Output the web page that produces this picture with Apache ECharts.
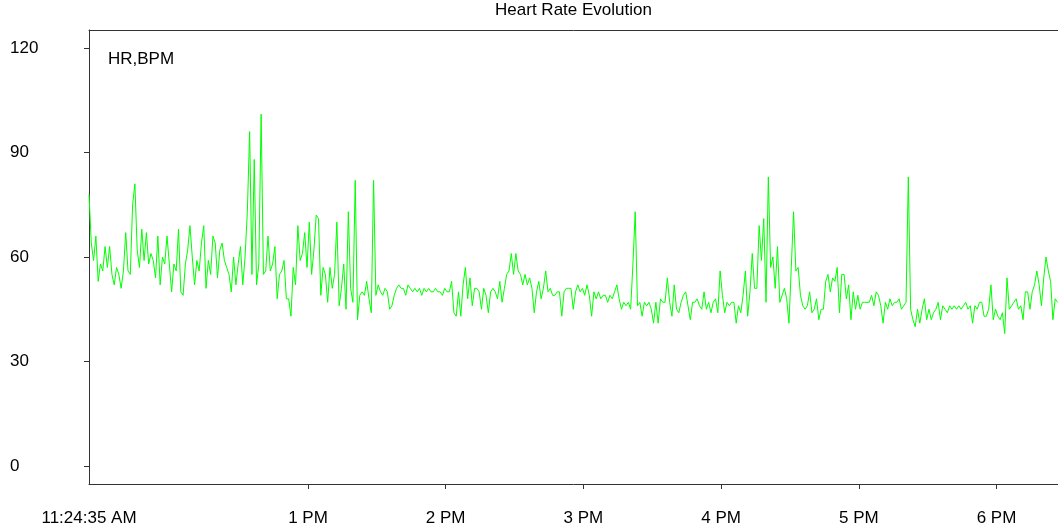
<!DOCTYPE html>
<html>
<head>
<meta charset="utf-8">
<script src="https://cdn.jsdelivr.net/npm/echarts@6/dist/echarts.min.js"></script>
<style>
html,body{margin:0;padding:0;background:#fff;}
#chart{width:1058px;height:531px;}
</style>
</head>
<body>
<div id="chart"></div>
<script>
// Start time 11:24:35 AM, in seconds since midnight; one reading per minute
const startSec = 11 * 3600 + 24 * 60 + 35;
const stepSec = 60;
const endSec = startSec + 25333;

// Heart rate (BPM), in consecutive blocks
const hrBlock1 = [78,64,59,66,53,58,56,63,57,63,55,52,57,55,51,56,67,56,55,75,
  81,62,57,68,59,67,58,61,59,54,66,52,60,58,66,58,50,58,56,68,
  50,49,58,62,69,60,52,59,56,64,69,51,59,55,66,64,54,62,64,59,
  57,55,50,60,52,58,63,52,60,73,96,55,88,52,58,101];
const hrBlock2 = [55,56,66,56,58,63,48,55,56,59,48,48,43,57,52,69,59,61,67,57,
  70,55,62,72,71,49,57,55,47,57,51,55,70,46,51,58,45,73,51,47,
  82,42,49,50,49,53,48,44,82,49,52,50,49,51,50,45,46,49,51,52,
  51,51,49,52,51,50];
const hrBlock3 = [51,50,51,49,51,50,51,50,50,51,50,50,49,51,50,50,53,44,43,50,
  43,52,57,48,54,46,51,51,50,45,51,49,44,50,51,50,48,53,47,51,
  55,56,61,55,61,56,55,52,55,52,54,51,44,50,53,48,51,56,50,51,
  49,49,50,50,43,50,51,51,51,45];
const hrBlock4 = [50,52,50,51,49,52,49,43,50,48,50,48,49,49,47,49,48,50,52,48,
  45,47,46,47,45,58,73,46,47,43,47,46,47,45,41,47,41,48,47,47,
  54,47,43,52,45,44,47,49,50,46,42,47,47,48,46,45,50,45,47,44,
  47,48,44,56,49,44,47,46,47];
const hrBlock5 = [47,41,46,44,49,56,43,50,61,51,51,69,59,71,47,83,57,60,51,63,
  47,49,51,48,41,57,73,56,57,49,46,45,46,50,44,45,48,42,45,45,
  53,55,50,54,53,57,44,55,55,48,52,42,50,45,49,45,47,47,47,47,
  49,46,50,49,46,41,47,45,48,46];
const hrBlock6 = [47,47,48,45,46,47,83,45,42,40,45,41,45,48,42,45,42,44,45,47,
  42,46,45,44,46,45,46,45,46,45,46,47,45,46,41,46,45,47,47,43,
  43,45,52,42,45,43,42,44,38,54,45,46,47,48,45,46,42,50,50,45,
  50,52,56,52,46,54,60,56,53,42,48,47];

const hrValues = [].concat(hrBlock1, hrBlock2, hrBlock3, hrBlock4, hrBlock5, hrBlock6);

// Axis ticks and labels
const xTickValues = [startSec, 13*3600, 14*3600, 15*3600, 16*3600, 17*3600, 18*3600];
const xTickLabels = ['11:24:35 AM', '1 PM', '2 PM', '3 PM', '4 PM', '5 PM', '6 PM'];
const yTickValues = [0, 30, 60, 90, 120];
const yTickLabels = ['0', '30', '60', '90', '120'];

const chartTitle = 'Heart Rate Evolution';
const seriesLabel = 'HR,BPM';

const seriesData = hrValues.map((v, i) => [startSec + i * stepSec, v]);

const chart = echarts.init(document.getElementById('chart'), null, {renderer: 'canvas'});
const FONT = 'Liberation Sans, Arial, sans-serif';
const axisColor = '#333';

chart.setOption({
  animation: false,
  backgroundColor: '#fff',
  grid: {left: 89, top: 30, right: 0, bottom: 47, containLabel: false},
  graphic: [
    {type: 'text', x: 573.5, y: 10, style: {text: chartTitle, font: '17px ' + FONT, fill: '#000', textAlign: 'center', textVerticalAlign: 'middle'}},
    {type: 'text', x: 108, y: 59, style: {text: seriesLabel, font: '17px ' + FONT, fill: '#000', textAlign: 'left', textVerticalAlign: 'middle'}}
  ],
  xAxis: [{
    type: 'value',
    min: startSec,
    max: endSec,
    position: 'bottom',
    splitLine: {show: false},
    axisLine: {show: true, onZero: false, lineStyle: {color: axisColor, width: 1}},
    axisTick: {show: true, length: 5, lineStyle: {color: axisColor}, customValues: xTickValues.slice(1)},
    axisLabel: {
      show: true, margin: 26, color: '#000', fontSize: 17, fontFamily: FONT,
      customValues: xTickValues,
      formatter: function (v) { const k = xTickValues.indexOf(v); return k >= 0 ? xTickLabels[k] : ''; }
    }
  }, {
    type: 'value',
    min: startSec,
    max: endSec,
    position: 'top',
    splitLine: {show: false},
    axisLine: {show: true, onZero: false, lineStyle: {color: axisColor, width: 1}},
    axisTick: {show: false},
    axisLabel: {show: false}
  }],
  yAxis: {
    type: 'value',
    min: -5.17,
    max: 125.17,
    splitLine: {show: false},
    axisLine: {show: true, onZero: false, lineStyle: {color: axisColor, width: 1}},
    axisTick: {show: true, length: 5, lineStyle: {color: axisColor}, customValues: yTickValues},
    axisLabel: {
      show: true, margin: 79, align: 'left', color: '#000', fontSize: 17, fontFamily: FONT,
      customValues: yTickValues,
      formatter: function (v) { const k = yTickValues.indexOf(v); return k >= 0 ? yTickLabels[k] : ''; }
    }
  },
  series: [{
    type: 'line',
    xAxisIndex: 0,
    data: seriesData,
    showSymbol: false,
    symbol: 'none',
    lineStyle: {color: '#00ff00', width: 1},
    itemStyle: {color: '#00ff00'}
  }]
});
</script>
</body>
</html>
